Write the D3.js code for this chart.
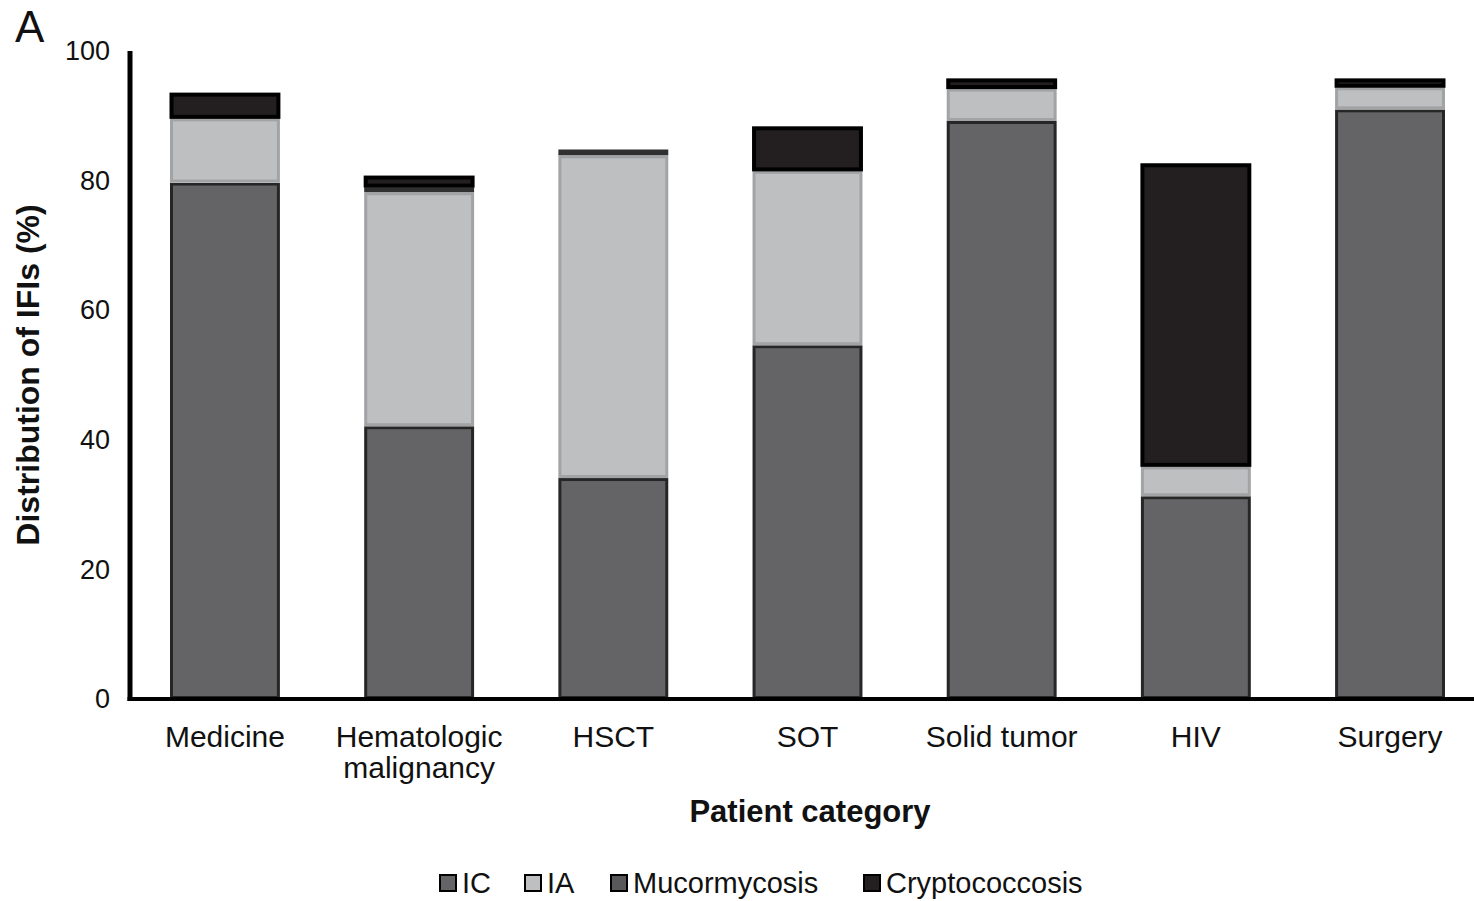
<!DOCTYPE html>
<html>
<head>
<meta charset="utf-8">
<script src="https://cdn.jsdelivr.net/npm/d3@7"></script>
<style>
  body { margin: 0; background: #fff; }
  svg text { font-family: "Liberation Sans", Arial, sans-serif; fill: #111; }
</style>
</head>
<body>
<div class="chart"></div>
<script>
// patient categories (x axis), "\n" splits a label in two lines
const categories = ['Medicine', 'Hematologic\nmalignancy', 'HSCT', 'SOT', 'Solid tumor', 'HIV', 'Surgery'];
const seriesNames = ['IC', 'IA', 'Mucormycosis', 'Cryptococcosis'];

// % of IFIs per category
const icValues     = [79.7, 42.1, 34.1, 54.6, 89.2, 31.3, 91.0];
const iaValues     = [9.9, 36.1, 49.8, 26.9, 5.0, 4.6, 3.4];
const mucorValues  = [0.0, 0.8, 0.9, 0.0, 0.0, 0.0, 0.0];
const cryptoValues = [3.9, 1.7, 0.0, 6.8, 1.5, 46.7, 1.3];

const yTicks = [0, 20, 40, 60, 80, 100];

const fills   = {IC: '#646466', IA: '#bebfc1', Mucormycosis: '#58585a', Cryptococcosis: '#231f20'};
const strokes = {IC: '#262626', IA: '#a2a3a5', Mucormycosis: '#303030', Cryptococcosis: '#000'};

const width = 1474, height = 901;

const svg = d3.select('.chart')
    .append('svg')
    .attr('width', width)
    .attr('height', height);

const x = d3.scaleBand()
    .domain(categories)
    .range([130, 1485])
    .paddingInner(0.434)
    .paddingOuter(0.206);

const y = d3.scaleLinear()
    .domain([0, 100])
    .range([699, 51]);

// build rows for d3.stack
const rows = categories.map((c, i) => ({
    cat: c,
    IC: icValues[i],
    IA: iaValues[i],
    Mucormycosis: mucorValues[i],
    Cryptococcosis: cryptoValues[i]
}));

const stacked = d3.stack().keys(seriesNames)(rows);

const layers = svg.selectAll('g.layer')
    .data(stacked)
    .enter()
    .append('g')
    .attr('class', 'layer');

// white gap under every segment, then the segment itself
layers.selectAll('rect.gap')
    .data(d => d.filter(s => s[1] - s[0] > 0))
    .enter()
    .append('rect')
    .attr('class', 'gap')
    .attr('x', d => x(d.data.cat))
    .attr('width', x.bandwidth())
    .attr('y', d => y(d[1]) - 1)
    .attr('height', d => y(d[0]) - y(d[1]) + 1)
    .attr('fill', '#fff');

layers.each(function(layer) {
    const key = layer.key;
    d3.select(this).selectAll('rect.seg')
        .data(layer.filter(s => s[1] - s[0] > 0))
        .enter()
        .append('rect')
        .attr('class', 'seg')
        .attr('x', d => x(d.data.cat) + 1.5)
        .attr('width', x.bandwidth() - 3)
        .attr('y', d => y(d[1]) + 1.5)
        .attr('height', d => Math.max(0.5, y(d[0]) - y(d[1]) - 3))
        .attr('fill', fills[key])
        .attr('stroke', strokes[key])
        .attr('stroke-width', key === 'Cryptococcosis' ? 4 : 3);
});

// axes, drawn as thick black lines without tick marks
const yAxis = svg.append('g')
    .attr('transform', 'translate(130,0)')
    .call(d3.axisLeft(y).tickValues(yTicks).tickSize(0).tickPadding(20));
yAxis.select('.domain').attr('stroke', '#000').attr('stroke-width', 5).attr('d', 'M0,51V701');
yAxis.selectAll('text')
    .attr('font-size', 27)
    .attr('font-family', '"Liberation Sans", Arial, sans-serif')
    .attr('fill', '#111');

const xAxis = svg.append('g')
    .attr('transform', 'translate(0,699)')
    .call(d3.axisBottom(x).tickSize(0).tickFormat(''));
xAxis.select('.domain').attr('stroke', '#000').attr('stroke-width', 4).attr('d', 'M127.5,0H1474');

// category labels, possibly two lines
svg.selectAll('text.cat')
    .data(categories)
    .enter()
    .append('text')
    .attr('class', 'cat')
    .attr('text-anchor', 'middle')
    .attr('font-size', 30)
    .attr('transform', d => 'translate(' + (x(d) + x.bandwidth() / 2) + ',747)')
    .each(function(d) {
        d.split('\n').forEach((line, i) => {
            d3.select(this).append('tspan')
                .attr('x', 0)
                .attr('dy', i === 0 ? 0 : 31)
                .text(line);
        });
    });

// axis titles
svg.append('text')
    .attr('x', 810)
    .attr('y', 822)
    .attr('text-anchor', 'middle')
    .attr('font-size', 31)
    .attr('font-weight', 'bold')
    .text('Patient category');

svg.append('text')
    .attr('transform', 'translate(39,375) rotate(-90)')
    .attr('text-anchor', 'middle')
    .attr('font-size', 32)
    .attr('font-weight', 'bold')
    .text('Distribution of IFIs (%)');

svg.append('text')
    .attr('x', 15)
    .attr('y', 42)
    .attr('font-size', 44)
    .text('A');

// legend
const legendX = [440, 525, 611, 864];
const legend = svg.selectAll('g.legend')
    .data(seriesNames)
    .enter()
    .append('g')
    .attr('class', 'legend')
    .attr('transform', (d, i) => 'translate(' + legendX[i] + ',875)');

legend.append('rect')
    .attr('width', 16)
    .attr('height', 16)
    .attr('fill', d => fills[d])
    .attr('stroke', '#000')
    .attr('stroke-width', 2);

legend.append('text')
    .attr('x', 22)
    .attr('y', 18)
    .attr('font-size', 29)
    .text(d => d);
</script>
</body>
</html>
